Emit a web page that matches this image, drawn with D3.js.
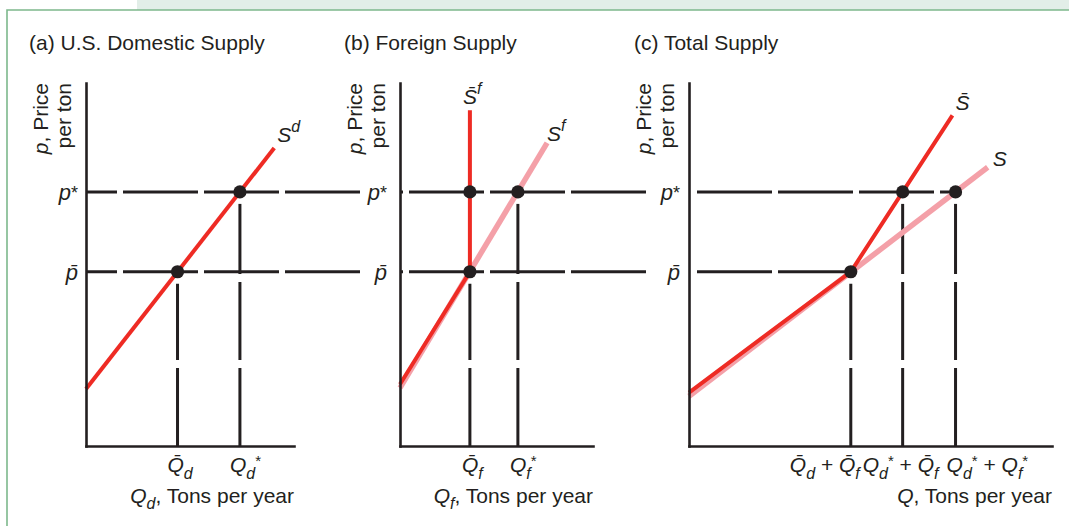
<!DOCTYPE html>
<html>
<head>
<meta charset="utf-8">
<script src="https://cdn.jsdelivr.net/npm/d3@7"></script>
<style>
  html, body { margin: 0; padding: 0; background: #fff; }
  svg { display: block; font-family: "Liberation Sans", Arial, Helvetica, sans-serif; }
</style>
</head>
<body>
<svg id="chart" width="1069" height="526"></svg>
<script>
// ---- data (price per ton, quantity in tons per year) ----
const panelTitles = ["(a) U.S. Domestic Supply", "(b) Foreign Supply", "(c) Total Supply"];
const priceLevels = [4.8, 7.0];                 // p-bar (quota price), p* (world price)
const domesticQ = [8.8, 14.8];                  // Q-bar_d, Q*_d
const foreignQ = [6.7, 11.3];                   // Q-bar_f, Q*_f
const totalQ = [15.6, 20.6, 25.7];              // Q-bar_d+Q-bar_f, Q*_d+Q-bar_f, Q*_d+Q*_f
const domesticSupply = [[0, 1.57], [18.1, 8.21]];                 // S^d
const foreignSupply = [[0, 1.6], [14.1, 8.35]];                   // S^f
const foreignQuotaSupply = [[0, 1.7], [6.7, 4.8], [6.7, 9.25]];   // S-bar^f
const totalSupply = [[0, 1.37], [28.8, 7.68]];                    // S
const totalQuotaSupply = [[0, 1.47], [15.6, 4.8], [25.4, 9.11]];  // S-bar
const priceDomain = [0, 10];
const quantityDomains = [[0, 20], [0, 18.5], [0, 35]];

// ---- styling ----
const INK = "#231f20", RED = "#ee2b24", PINK = "#f4a0a8";
const MACRON = "\u0304";
const FS = 21;

const svg = d3.select("#chart");

// page frame
svg.append("rect").attr("x", 137).attr("y", 0).attr("width", 932).attr("height", 10).attr("fill", "#e2eee8");
svg.append("path").attr("d", "M7,526V10H1069").attr("fill", "none").attr("stroke", "#7db88c").attr("stroke-width", 1.6);

// shared price scale, one quantity scale per panel
const y = d3.scaleLinear().domain(priceDomain).range([446, 83]);
const xA = d3.scaleLinear().domain(quantityDomains[0]).range([86, 294]);
const xB = d3.scaleLinear().domain(quantityDomains[1]).range([400, 593]);
const xC = d3.scaleLinear().domain(quantityDomains[2]).range([689, 1052]);

const line = (xs) => d3.line().x(d => xs(d[0])).y(d => y(d[1]));

// rich text: parts = {t, it, size, off (baseline offset), dx}
function rich(g, x, yy, parts, anchor, size) {
  const t = g.append("text").attr("x", x).attr("y", yy)
    .attr("text-anchor", anchor || "start").attr("fill", INK).attr("font-size", size || FS);
  let cur = 0;
  parts.forEach(p => {
    const off = p.off || 0;
    const ts = t.append("tspan").text(p.t).attr("dy", off - cur);
    cur = off;
    if (p.it) ts.attr("font-style", "italic");
    if (p.size) ts.attr("font-size", p.size);
    if (p.dx) ts.attr("dx", p.dx);
  });
  return t;
}

function axes(g, xs) {
  g.append("g").attr("transform", `translate(0,${y.range()[0]})`)
    .call(d3.axisBottom(xs).tickValues([]).tickSizeOuter(0))
    .call(s => s.select(".domain").attr("stroke", INK).attr("stroke-width", 2.6).attr("stroke-linecap", "square"));
  g.append("g").attr("transform", `translate(${xs.range()[0]},0)`)
    .call(d3.axisLeft(y).tickValues([]).tickSizeOuter(0))
    .call(s => s.select(".domain").attr("stroke", INK).attr("stroke-width", 2.6).attr("stroke-linecap", "square"));
}

function yTitle(g, xs) {
  const x0 = xs.range()[0], top = y.range()[1];
  [["p", ", Price", -38], [null, "per ton", -15]].forEach(([ital, rest, dx]) => {
    const t = g.append("text").attr("transform", `translate(${x0 + dx},${top}) rotate(-90)`)
      .attr("text-anchor", "end").attr("fill", INK).attr("font-size", FS);
    if (ital) t.append("tspan").attr("font-style", "italic").text(ital);
    t.append("tspan").text(rest);
  });
}

function priceLabels(g, xs, gap) {
  const xl = xs.range()[0] - gap;
  rich(g, xl, y(priceLevels[1]) + 8, [{t: "p", it: true}, {t: "*", size: 18, off: -1}], "end", 22);
  rich(g, xl, y(priceLevels[0]) + 8, [{t: "p" + MACRON, it: true}], "end", 22);
}

function hGuide(g, x1, x2, p, offset) {
  g.append("path").attr("d", `M${x1},${y(p)}H${x2}`)
    .attr("stroke", INK).attr("stroke-width", 3).attr("fill", "none")
    .attr("stroke-dasharray", "75,6").attr("stroke-dashoffset", offset);
}
function vGuide(g, xs, q, p) {
  g.append("path").attr("d", `M${xs(q)},${y.range()[0]}V${y(p) + 12}`)
    .attr("stroke", INK).attr("stroke-width", 3).attr("fill", "none")
    .attr("stroke-dasharray", "78,8");
}
function curve(g, xs, pts, color, w) {
  g.append("path").datum(pts).attr("d", line(xs)).attr("fill", "none")
    .attr("stroke", color).attr("stroke-width", w);
}
function dots(g, xs, pts) {
  g.selectAll(null).data(pts).join("circle")
    .attr("cx", d => xs(d[0])).attr("cy", d => y(d[1])).attr("r", 6.6).attr("fill", INK);
}

// ---------- panel (a) ----------
const gA = svg.append("g");
gA.append("text").attr("x", 29).attr("y", 50).attr("font-size", FS).attr("fill", INK).text(panelTitles[0]);
priceLevels.forEach(p => hGuide(gA, xA(0), xA.range()[1] + 66, p, 44));
domesticQ.forEach((q, i) => vGuide(gA, xA, q, priceLevels[i]));
curve(gA, xA, domesticSupply, RED, 4);
axes(gA, xA);
dots(gA, xA, domesticQ.map((q, i) => [q, priceLevels[i]]));
yTitle(gA, xA);
priceLabels(gA, xA, 8);
{
  const e = domesticSupply[domesticSupply.length - 1];
  rich(gA, xA(e[0]) + 3, y(e[1]) - 6, [{t: "S", it: true}, {t: "d", it: true, size: 16, off: -10}]);
}
rich(gA, xA(domesticQ[0]) - 10, 472, [{t: "Q" + MACRON, it: true}, {t: "d", it: true, size: 16, off: 7}]);
rich(gA, xA(domesticQ[1]) - 10, 472, [{t: "Q", it: true}, {t: "d", it: true, size: 16, off: 7}, {t: "*", size: 15, off: -6}]);
rich(gA, xA.range()[1], 503, [{t: "Q", it: true}, {t: "d", it: true, size: 16, off: 6}, {t: ", Tons per year", off: 0}], "end");

// ---------- panel (b) ----------
const gB = svg.append("g");
gB.append("text").attr("x", 344).attr("y", 50).attr("font-size", FS).attr("fill", INK).text(panelTitles[1]);
priceLevels.forEach(p => hGuide(gB, xB(0) + 1, xC(0) - 41, p, 73));
foreignQ.forEach((q, i) => vGuide(gB, xB, q, priceLevels[i]));
curve(gB, xB, foreignSupply, PINK, 5.5);
curve(gB, xB, foreignQuotaSupply, RED, 4);
axes(gB, xB);
dots(gB, xB, [[foreignQ[0], priceLevels[0]], [foreignQ[0], priceLevels[1]], [foreignQ[1], priceLevels[1]]]);
yTitle(gB, xB);
priceLabels(gB, xB, 13);
{
  const e = foreignQuotaSupply[foreignQuotaSupply.length - 1];
  rich(gB, xB(e[0]) - 7, y(e[1]) - 6, [{t: "S" + MACRON, it: true}, {t: "f", it: true, size: 16, off: -10}]);
  const s = foreignSupply[foreignSupply.length - 1];
  rich(gB, xB(s[0]), y(s[1]) - 2, [{t: "S", it: true}, {t: "f", it: true, size: 16, off: -10}]);
}
rich(gB, xB(foreignQ[0]) - 8, 472, [{t: "Q" + MACRON, it: true}, {t: "f", it: true, size: 16, off: 7}]);
rich(gB, xB(foreignQ[1]) - 8, 472, [{t: "Q", it: true}, {t: "f", it: true, size: 16, off: 7}, {t: "*", size: 15, off: -6}]);
rich(gB, xB.range()[1], 503, [{t: "Q", it: true}, {t: "f", it: true, size: 16, off: 6}, {t: ", Tons per year", off: 0}], "end");

// ---------- panel (c) ----------
const gC = svg.append("g");
gC.append("text").attr("x", 634).attr("y", 50).attr("font-size", FS).attr("fill", INK).text(panelTitles[2]);
hGuide(gC, xC(0) + 8, xC(totalQ[0]), priceLevels[0], 0);
hGuide(gC, xC(0) + 8, xC(totalQ[2]), priceLevels[1], 0);
[[totalQ[0], priceLevels[0]], [totalQ[1], priceLevels[1]], [totalQ[2], priceLevels[1]]]
  .forEach(d => vGuide(gC, xC, d[0], d[1]));
curve(gC, xC, totalSupply, PINK, 5.5);
curve(gC, xC, totalQuotaSupply, RED, 4);
axes(gC, xC);
dots(gC, xC, [[totalQ[0], priceLevels[0]], [totalQ[1], priceLevels[1]], [totalQ[2], priceLevels[1]]]);
yTitle(gC, xC);
priceLabels(gC, xC, 9);
{
  const e = totalQuotaSupply[totalQuotaSupply.length - 1];
  rich(gC, xC(e[0]) + 3, y(e[1]) - 5, [{t: "S" + MACRON, it: true}]);
  const s = totalSupply[totalSupply.length - 1];
  rich(gC, xC(s[0]) + 5, y(s[1]) - 1, [{t: "S", it: true}]);
}
rich(gC, xC(totalQ[0]) + 9, 472, [
  {t: "Q" + MACRON, it: true}, {t: "d", it: true, size: 16, off: 7},
  {t: " + ", off: 0}, {t: "Q" + MACRON, it: true}, {t: "f", it: true, size: 16, off: 7}], "end");
rich(gC, xC(totalQ[1]) - 40, 472, [
  {t: "Q", it: true}, {t: "d", it: true, size: 16, off: 7}, {t: "*", size: 15, off: -6},
  {t: " + ", off: 0}, {t: "Q" + MACRON, it: true}, {t: "f", it: true, size: 16, off: 7}]);
rich(gC, xC(totalQ[2]) - 9, 472, [
  {t: "Q", it: true}, {t: "d", it: true, size: 16, off: 7}, {t: "*", size: 15, off: -6},
  {t: " + ", off: 0}, {t: "Q", it: true}, {t: "f", it: true, size: 16, off: 7}, {t: "*", size: 15, off: -6}]);
rich(gC, xC.range()[1], 503, [{t: "Q", it: true}, {t: ", Tons per year"}], "end");
</script>
</body>
</html>
